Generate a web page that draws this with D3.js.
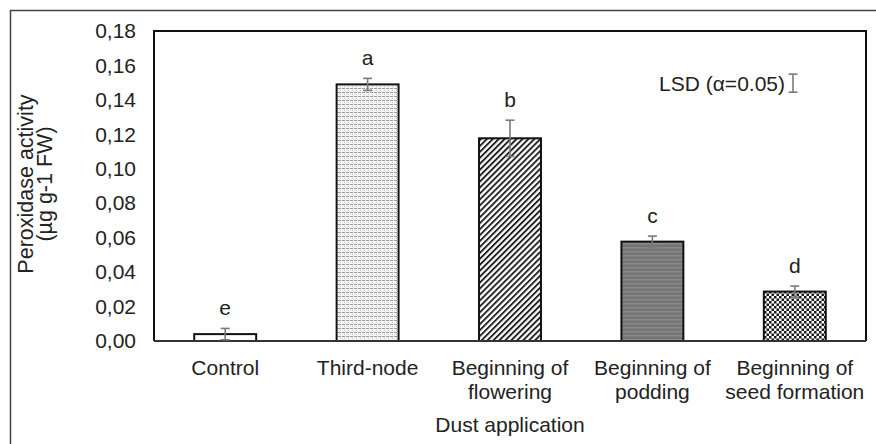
<!DOCTYPE html>
<html>
<head>
<meta charset="utf-8">
<script src="https://cdn.jsdelivr.net/npm/d3@7"></script>
<style>
  body { margin: 0; background: #fff; }
  svg text { font-family: "Liberation Sans", Arial, sans-serif; fill: #222; }
</style>
</head>
<body>
<div id="chart"></div>
<script>
// data
var categories = ["Control", "Third-node", "Beginning of flowering", "Beginning of podding", "Beginning of seed formation"];
var labelLines = [["Control"], ["Third-node"], ["Beginning of", "flowering"], ["Beginning of", "podding"], ["Beginning of", "seed formation"]];
var values = [0.004, 0.149, 0.1177, 0.0577, 0.0287];
var errors = [0.0033, 0.0035, 0.0105, 0.0032, 0.0032];
var letters = ["e", "a", "b", "c", "d"];
var patterns = ["none", "dots", "diag", "hstripe", "checker"];
var yTicks = [0, 0.02, 0.04, 0.06, 0.08, 0.10, 0.12, 0.14, 0.16, 0.18];
var lsd = 0.0105;

var W = 876, H = 444;
var margin = {top: 31, right: 10, bottom: 103, left: 154};
var width = W - margin.left - margin.right,
    height = H - margin.top - margin.bottom;

var svg = d3.select("#chart").append("svg")
    .attr("width", W)
    .attr("height", H);

// patterns for the bars
var defs = svg.append("defs");

var p = defs.append("pattern").attr("id", "dots")
    .attr("patternUnits", "userSpaceOnUse").attr("width", 4).attr("height", 4);
p.append("rect").attr("width", 4).attr("height", 4).attr("fill", "#f4f4f4");
p.append("rect").attr("x", 0).attr("y", 1).attr("width", 3).attr("height", 1).attr("fill", "#9a9a9a");
p.append("rect").attr("x", 2).attr("y", 3).attr("width", 1).attr("height", 1).attr("fill", "#c4c4c4");

p = defs.append("pattern").attr("id", "diag")
    .attr("patternUnits", "userSpaceOnUse").attr("width", 4.2).attr("height", 4.2)
    .attr("patternTransform", "rotate(45)");
p.append("rect").attr("width", 4.2).attr("height", 4.2).attr("fill", "#fff");
p.append("rect").attr("x", 0).attr("width", 1.9).attr("height", 4.2).attr("fill", "#222");

p = defs.append("pattern").attr("id", "hstripe")
    .attr("patternUnits", "userSpaceOnUse").attr("width", 4).attr("height", 4);
p.append("rect").attr("width", 4).attr("height", 4).attr("fill", "#747474");
p.append("rect").attr("y", 0).attr("width", 4).attr("height", 1.5).attr("fill", "#8a8a8a");

p = defs.append("pattern").attr("id", "checker")
    .attr("patternUnits", "userSpaceOnUse").attr("width", 5).attr("height", 5);
p.append("rect").attr("width", 5).attr("height", 5).attr("fill", "#fff");
p.append("rect").attr("x", 0).attr("y", 0).attr("width", 2.5).attr("height", 2.5).attr("fill", "#1a1a1a");
p.append("rect").attr("x", 2.5).attr("y", 2.5).attr("width", 2.5).attr("height", 2.5).attr("fill", "#1a1a1a");

// outer frame (runs off the picture on the right and bottom)
svg.append("rect")
    .attr("x", 10.5).attr("y", 10.5)
    .attr("width", 900).attr("height", 500)
    .attr("fill", "none").attr("stroke", "#444").attr("stroke-width", 1.5);

var g = svg.append("g")
    .attr("transform", "translate(" + margin.left + "," + margin.top + ")");

var x = d3.scaleBand().domain(categories).range([0, width]).paddingInner(0.565).paddingOuter(0.2825);
var y = d3.scaleLinear().domain([0, 0.18]).range([height, 0]);

// plot box
g.append("path")
    .attr("d", "M0," + height + "V0H" + width + "V" + height)
    .attr("fill", "none").attr("stroke", "#111").attr("stroke-width", 2);

// y axis labels
var yAxis = g.append("g")
    .call(d3.axisLeft(y).tickValues(yTicks).tickSize(0).tickPadding(18)
      .tickFormat(function(d) { return d3.format(".2f")(d).replace(".", ","); }));
yAxis.select(".domain").remove();
yAxis.selectAll("text").attr("font-size", 21).attr("fill", "#222")
    .style("font-family", "'Liberation Sans', Arial, sans-serif");

// bars
g.selectAll(".bar")
    .data(categories)
  .enter().append("rect")
    .attr("class", "bar")
    .attr("x", function(d) { return x(d); })
    .attr("y", function(d, i) { return y(values[i]); })
    .attr("width", x.bandwidth())
    .attr("height", function(d, i) { return height - y(values[i]); })
    .attr("fill", function(d, i) { return patterns[i] == "none" ? "#fff" : "url(#" + patterns[i] + ")"; })
    .attr("stroke", "#111").attr("stroke-width", 2);

// x axis line
g.append("line")
    .attr("x1", 0).attr("x2", width)
    .attr("y1", height).attr("y2", height)
    .attr("stroke", "#333").attr("stroke-width", 2.2);

// error bars
var eb = g.selectAll(".err")
    .data(categories)
  .enter().append("g")
    .attr("class", "err")
    .attr("stroke", "#7a7a7a").attr("stroke-width", 1.6);
eb.append("line")
    .attr("x1", function(d) { return x(d) + x.bandwidth() / 2; })
    .attr("x2", function(d) { return x(d) + x.bandwidth() / 2; })
    .attr("y1", function(d, i) { return y(values[i] - errors[i]); })
    .attr("y2", function(d, i) { return y(values[i] + errors[i]); });
eb.append("line")
    .attr("x1", function(d) { return x(d) + x.bandwidth() / 2 - 4.5; })
    .attr("x2", function(d) { return x(d) + x.bandwidth() / 2 + 4.5; })
    .attr("y1", function(d, i) { return y(values[i] + errors[i]); })
    .attr("y2", function(d, i) { return y(values[i] + errors[i]); });
eb.append("line")
    .attr("x1", function(d) { return x(d) + x.bandwidth() / 2 - 4.5; })
    .attr("x2", function(d) { return x(d) + x.bandwidth() / 2 + 4.5; })
    .attr("y1", function(d, i) { return y(Math.max(0, values[i] - errors[i])); })
    .attr("y2", function(d, i) { return y(Math.max(0, values[i] - errors[i])); });

// significance letters
g.selectAll(".letter")
    .data(categories)
  .enter().append("text")
    .attr("class", "letter")
    .attr("x", function(d) { return x(d) + x.bandwidth() / 2; })
    .attr("y", function(d, i) { return y(values[i] + errors[i]) - 13; })
    .attr("text-anchor", "middle")
    .attr("font-size", 21)
    .text(function(d, i) { return letters[i]; });

// category labels
var xl = g.selectAll(".xlab")
    .data(categories)
  .enter().append("text")
    .attr("class", "xlab")
    .attr("text-anchor", "middle")
    .attr("font-size", 21)
    .attr("transform", function(d) { return "translate(" + (x(d) + x.bandwidth() / 2) + "," + (height + 34) + ")"; });
xl.selectAll("tspan")
    .data(function(d, i) { return labelLines[i]; })
  .enter().append("tspan")
    .attr("x", 0)
    .attr("dy", function(d, j) { return j == 0 ? 0 : 24; })
    .text(function(d) { return d; });

// axis titles
g.append("text")
    .attr("x", width / 2).attr("y", height + 91)
    .attr("text-anchor", "middle").attr("font-size", 21)
    .text("Dust application");

var yt = g.append("text")
    .attr("transform", "translate(" + (-121) + "," + (height / 2 - 2) + ") rotate(-90)")
    .attr("text-anchor", "middle").attr("font-size", 21.5);
yt.append("tspan").attr("x", 0).attr("dy", 0).text("Peroxidase activity");
yt.append("tspan").attr("x", 0).attr("dy", 19).text("(µg g-1 FW)");

// LSD marker
var lsdY = y(0.1497);
g.append("text")
    .attr("x", 631).attr("y", lsdY).attr("dy", "0.35em")
    .attr("text-anchor", "end").attr("font-size", 21)
    .text("LSD (α=0.05)");
var lsdG = g.append("g").attr("stroke", "#7a7a7a").attr("stroke-width", 1.6);
var lx = 639;
lsdG.append("line").attr("x1", lx).attr("x2", lx)
    .attr("y1", lsdY - (height - y(lsd)) / 2).attr("y2", lsdY + (height - y(lsd)) / 2);
lsdG.append("line").attr("x1", lx - 4.5).attr("x2", lx + 4.5)
    .attr("y1", lsdY - (height - y(lsd)) / 2).attr("y2", lsdY - (height - y(lsd)) / 2);
lsdG.append("line").attr("x1", lx - 4.5).attr("x2", lx + 4.5)
    .attr("y1", lsdY + (height - y(lsd)) / 2).attr("y2", lsdY + (height - y(lsd)) / 2);
</script>
</body>
</html>
